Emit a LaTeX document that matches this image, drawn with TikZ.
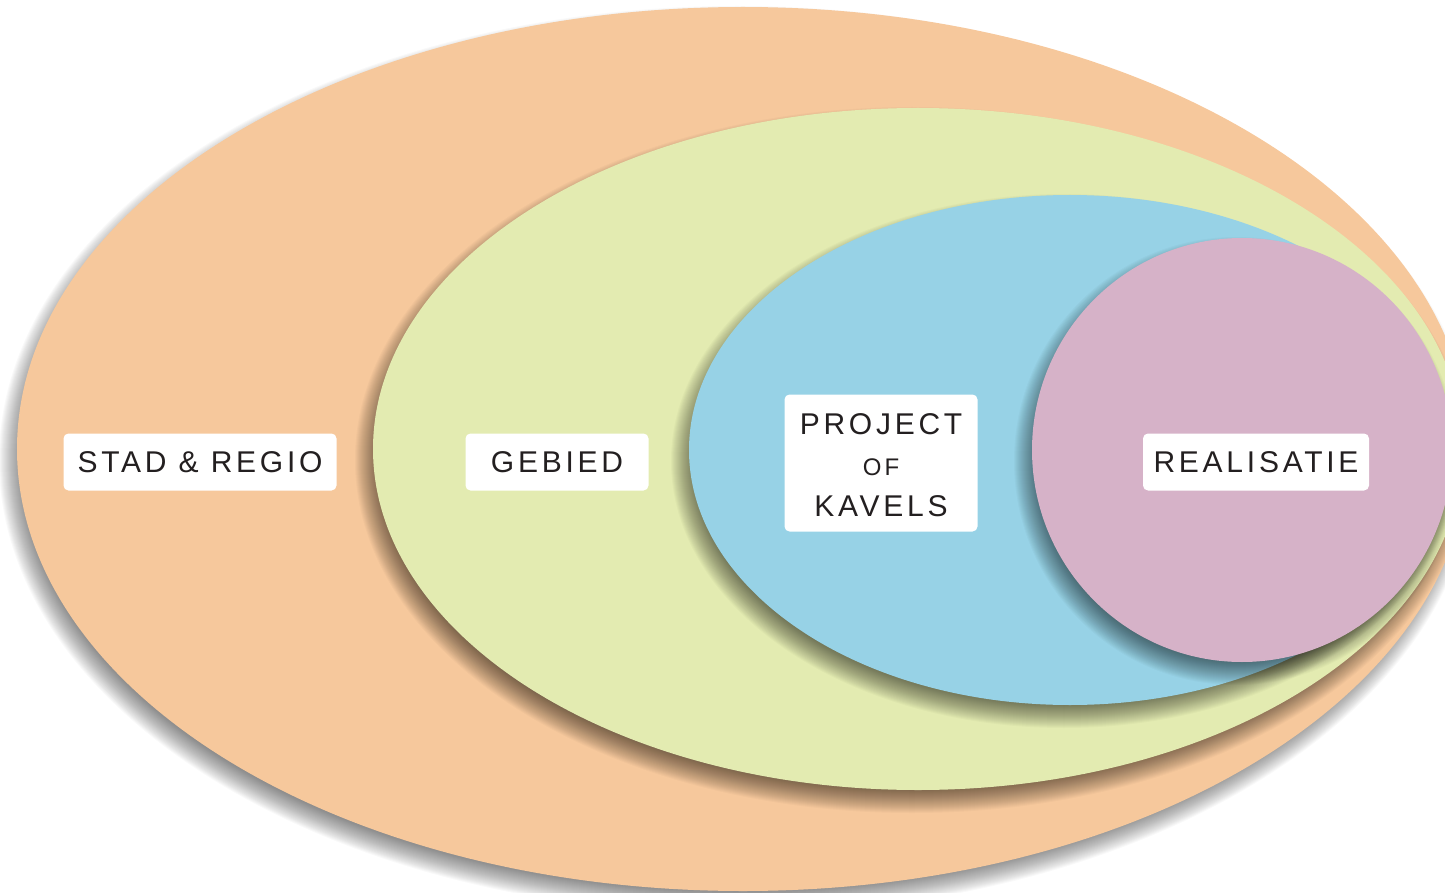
\documentclass[tikz,border=0pt]{standalone}
\usepackage{fontspec}
\setmainfont{Liberation Sans}
\newfontfamily\lblfont[LetterSpace=12.5]{Liberation Sans}
\definecolor{cOrange}{RGB}{246,200,156}
\definecolor{cGreen}{RGB}{227,235,177}
\definecolor{cBlue}{RGB}{151,210,230}
\definecolor{cPink}{RGB}{214,178,200}
\definecolor{cText}{RGB}{35,31,32}
\newcommand\mysoftshadow[4]{%
  \foreach \k in {0,...,24} {
    \fill[black, opacity=0.025] ({#1-6},{#2+11}) ellipse [x radius={#3+12-\k}, y radius={#4+12-\k}];
  }%
}
\tikzset{
  tagbox/.style={fill=white, rounded corners=5pt, inner sep=0pt, text=cText,
    font=\lblfont\fontsize{30}{41}\selectfont, minimum height=57pt, align=center}
}
\begin{document}
\begin{tikzpicture}[x=1pt,y=-1pt]
\useasboundingbox (0,0) rectangle (1445,893);
\clip (0,0) rectangle (1445,893);
\mysoftshadow{743}{449}{726}{442}
\fill[cOrange] (743,449) ellipse [x radius=726, y radius=442];
\mysoftshadow{918}{449}{545}{341}
\fill[cGreen] (918,449) ellipse [x radius=545, y radius=341];
\mysoftshadow{1070}{450}{381}{255}
\fill[cBlue] (1070,450) ellipse [x radius=381, y radius=255];
\mysoftshadow{1242}{450}{210}{212}
\fill[cPink] (1242,450) ellipse [x radius=210, y radius=212];
\node[tagbox, minimum width=273pt] (stad) at (200,462) {STAD \& REGIO};
\node[tagbox, minimum width=183pt] (gebied) at (557,462) {GEBIED};
\node[tagbox, minimum width=193pt, minimum height=137pt] (project) at (881,463) {};
\node[inner sep=0pt, text=cText, font=\lblfont\fontsize{30}{41}\selectfont, align=center] (projtext) at (881,465) {PROJECT\\{\fontsize{24}{41}\selectfont OF}\\KAVELS};
\node[tagbox, minimum width=226pt] (real) at (1256,462) {REALISATIE};
\end{tikzpicture}
\end{document}
